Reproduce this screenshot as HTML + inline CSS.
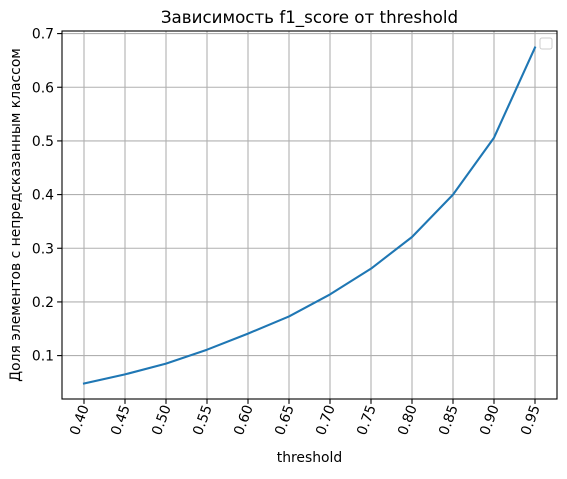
<!DOCTYPE html>
<html><head><meta charset="utf-8"><style>
body{margin:0;background:#fff;font-family:"Liberation Sans","DejaVu Sans",sans-serif;}
</style></head><body>
<svg id="chart" width="567" height="474" xmlns="http://www.w3.org/2000/svg" font-family="DejaVu Sans, Liberation Sans, sans-serif"></svg>
<script>
const thresholds=[0.40,0.45,0.50,0.55,0.60,0.65,0.70,0.75,0.80,0.85,0.90,0.95];
const values=[0.048,0.065,0.085,0.111,0.141,0.173,0.214,0.262,0.321,0.400,0.506,0.674];
const xTickLabels=["0.40","0.45","0.50","0.55","0.60","0.65","0.70","0.75","0.80","0.85","0.90","0.95"];
const yTicks=[0.1,0.2,0.3,0.4,0.5,0.6,0.7];
const yTickLabels=["0.1","0.2","0.3","0.4","0.5","0.6","0.7"];

const svg=document.getElementById('chart');
const NS="http://www.w3.org/2000/svg";
const L=62,R=557,T=31,B=399;
const x=v=>84+(v-0.40)/0.05*41;
const y=v=>355.6-(v-0.1)*536.7;
function mk(tag,attrs,parent){const e=document.createElementNS(NS,tag);for(const k in attrs)e.setAttribute(k,attrs[k]);(parent||svg).appendChild(e);return e;}

const grid=mk('g',{});


thresholds.forEach((t,i)=>{
  const gx=x(t);
  const l=mk('line',{x1:gx,x2:gx,y1:T,y2:B,stroke:'#b0b0b0','stroke-width':1.1},grid);
  
  
  const tk=mk('line',{x1:gx,x2:gx,y1:B,y2:B+4.9,stroke:'#000','stroke-width':1.1});
  
  
  const tx=mk('text',{x:0,y:0,'font-size':13.9,'text-anchor':'end',transform:`translate(${gx+5},${B+8}) rotate(-70)`});
  tx.textContent=xTickLabels[i];
  
  
});
yTicks.forEach((v,i)=>{
  const gy=y(v);
  const l=mk('line',{x1:L,x2:R,y1:gy,y2:gy,stroke:'#b0b0b0','stroke-width':1.1},grid);
  
  
  const tk=mk('line',{x1:L-4.9,x2:L,y1:gy,y2:gy,stroke:'#000','stroke-width':1.1});
  
  
  const tx=mk('text',{x:L-8,y:gy+5,'font-size':13.9,'text-anchor':'end'});
  tx.textContent=yTickLabels[i];
  
  
});

const pts=thresholds.map((t,i)=>x(t)+','+y(values[i])).join(' ');
const line=mk('polyline',{points:pts,fill:'none',stroke:'#1f77b4','stroke-width':2.1,'stroke-linejoin':'round','stroke-linecap':'square'});



const frame=mk('rect',{x:L,y:T,width:R-L,height:B-T,fill:'none',stroke:'#000','stroke-width':1.1});



const lg=mk('rect',{x:540,y:38,width:12,height:11,rx:2,fill:'#fff',stroke:'#ccc','stroke-width':1});



const title=mk('text',{x:(L+R)/2,y:23,'font-size':16.7,'text-anchor':'middle'});
title.textContent='Зависимость f1_score от threshold';



const xl=mk('text',{x:(L+R)/2,y:462,'font-size':13.9,'text-anchor':'middle'});
xl.textContent='threshold';



const yl=mk('text',{x:0,y:0,'font-size':13.9,'text-anchor':'middle',transform:`translate(20,${(T+B)/2}) rotate(-90)`});
yl.textContent='Доля элементов с непредсказанным классом';


</script>
</body></html>
